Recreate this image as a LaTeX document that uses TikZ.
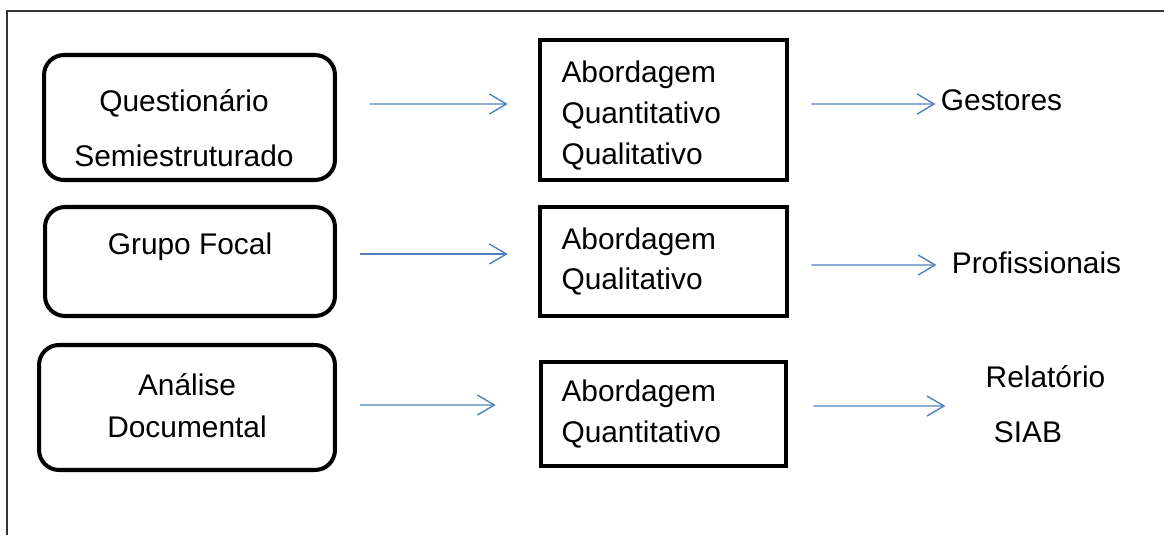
\documentclass[tikz,border=0pt]{standalone}
\usepackage{fontspec}
\setmainfont{Liberation Sans}
\usepackage{tikz}
\usetikzlibrary{arrows.meta}
\definecolor{setaazul}{RGB}{79,129,189}
\tikzstyle{metodo}    = [draw, line width=2.3pt, rounded corners=0.4cm]
\tikzstyle{abordagem} = [draw, line width=2.6pt, text width=4.08cm, inner xsep=0pt, align=left, font=\fontsize{17}{23.3}\selectfont]
\tikzstyle{rotulo}    = [inner sep=0pt, align=center, font=\fontsize{17}{23.3}\selectfont]
\tikzstyle{seta}      = [draw=setaazul, line width=0.8pt, -{Straight Barb[length=0.34cm,width=0.4cm]}]

\begin{document}
\begin{tikzpicture}[x=0.02cm,y=-0.02cm]
        \useasboundingbox (0,0) rectangle (1164,535);
        \draw[line width=0.8pt, black!80] (7,535) -- (7,11) -- (1164,11);

        % instrumentos
        \node[metodo, minimum width=5.82cm, minimum height=2.5cm] (questionario) at (189.5,117.5) {};
        \node[rotulo, font=\fontsize{17}{31.2}\selectfont] (questionarioT) at (184,128) {Questionário\\Semiestruturado};
        \node[metodo, minimum width=5.8cm, minimum height=2.18cm] (grupo) at (190,261.5) {};
        \node[rotulo] (grupoT) at (190,247) {Grupo Focal};
        \node[metodo, minimum width=5.92cm, minimum height=2.5cm] (analise) at (187,407.5) {};
        \node[rotulo, font=\fontsize{17}{23.8}\selectfont] (analiseT) at (187,406) {Análise\\Documental};

        % abordagens
        \node[abordagem, minimum width=4.94cm, minimum height=2.8cm] (abord1) at (663.5,110) {\rule{0pt}{19pt}Abordagem\\Quantitativo\\Qualitativo};
        \node[abordagem, minimum width=4.94cm, minimum height=2.18cm] (abord2) at (663.5,261.5) {Abordagem\\Qualitativo};
        \node[abordagem, minimum width=4.9cm, minimum height=2.08cm] (abord3) at (663.5,414) {Abordagem\\Quantitativo};

        % sujeitos / fontes
        \node[rotulo] (gestores) at (1001.5,100) {Gestores};
        \node[rotulo] (profissionais) at (1036.5,263) {Profissionais};
        \node[rotulo] (relatorio) at (1045.5,377) {Relatório};
        \node[rotulo] (siab) at (1028,432) {SIAB};

        \draw[seta] ([xshift=.66cm,yshift=.27cm]questionario.east) -- ([xshift=-.6cm,yshift=.12cm]abord1.west);
        \draw[seta] ([xshift=.44cm,yshift=.12cm]abord1.east) -- ([xshift=-.1cm,yshift=-.08cm]gestores.west);
        \draw[seta] ([xshift=.46cm,yshift=.15cm]grupo.east) -- ([xshift=-.6cm,yshift=.15cm]abord2.west);
        \draw[seta] ([xshift=.44cm,yshift=-.07cm]abord2.east) -- ([xshift=-.3cm,yshift=-.04cm]profissionais.west);
        \draw[seta] ([xshift=.46cm,yshift=.05cm]analise.east) -- ([xshift=-.86cm,yshift=.18cm]abord3.west);
        \draw[seta] ([xshift=.5cm,yshift=.16cm]abord3.east) -- ([xshift=-.8cm,yshift=-.58cm]relatorio.west);
    \end{tikzpicture}
\end{document}
